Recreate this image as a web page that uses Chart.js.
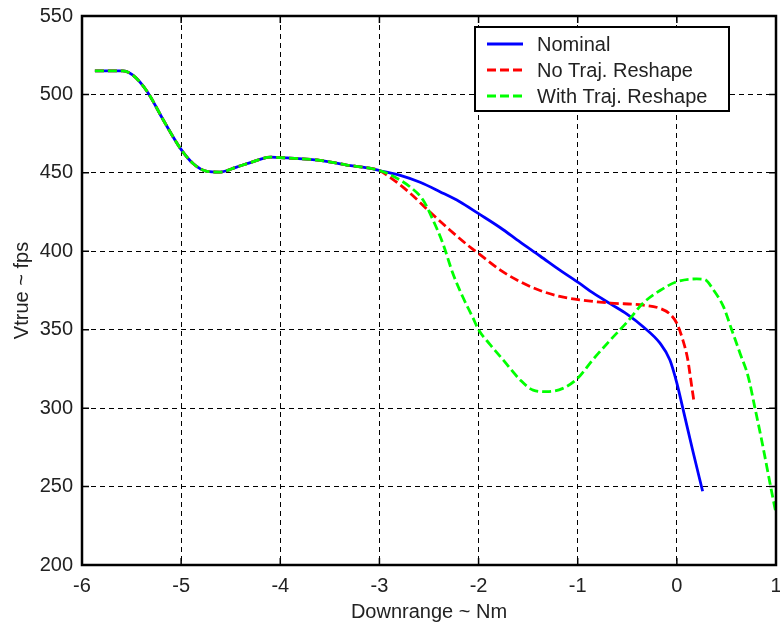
<!DOCTYPE html>
<html><head><meta charset="utf-8">
<script src="https://cdn.jsdelivr.net/npm/chart.js@4"></script>
<style>html,body{margin:0;padding:0;background:#fff}canvas{display:block}</style>
</head><body>
<canvas id="c" width="780" height="626"></canvas>
<script>
const seriesNames = ['Nominal', 'No Traj. Reshape', 'With Traj. Reshape'];
const xTicks = [-6, -5, -4, -3, -2, -1, 0, 1];
const yTicks = [200, 250, 300, 350, 400, 450, 500, 550];
const xTitle = 'Downrange ~ Nm';
const yTitle = 'Vtrue ~ fps';

// shared part of all three trajectories
const commonX = [-5.87, -5.72, -5.59, -5.49, -5.34, -5.18, -5.01, -4.88, -4.74, -4.61, -4.44, -4.28, -4.10, -3.93, -3.60, -3.33, -3.10, -3.00];
const commonY = [515, 515, 515, 512.4, 501.6, 483.7, 465.8, 456, 451, 450.5, 453.7, 457, 460, 459.5, 458, 455, 453, 451.5];

const nominalX = [-2.79, -2.59, -2.39, -2.19, -2.0, -1.78, -1.58, -1.38, -1.18, -0.98, -0.85, -0.67, -0.5, -0.34, -0.17, -0.07, 0.0, 0.06, 0.16, 0.26];
const nominalY = [448.4, 444, 438, 431.6, 424, 415, 405.8, 397, 388, 379.5, 373.6, 366.5, 359.8, 351.9, 341.4, 330.7, 316, 300, 273, 247];

const noReshapeX = [-2.9, -2.69, -2.49, -2.29, -2.09, -2.0, -1.78, -1.58, -1.38, -1.18, -0.98, -0.67, -0.34, -0.17, -0.07, 0.0, 0.06, 0.11, 0.145, 0.173];
const noReshapeY = [447.5, 437, 425, 413.6, 402.9, 398.6, 388, 380.6, 375, 371.2, 369, 367, 365.7, 363.6, 360, 354, 343.5, 331, 316, 304];

const withReshapeX = [-2.9, -2.69, -2.56, -2.46, -2.36, -2.26, -2.16, -2.06, -2.0, -1.89, -1.75, -1.58, -1.45, -1.31, -1.15, -1.0, -0.85, -0.67, -0.5, -0.34, -0.17, 0.0, 0.2, 0.28, 0.37, 0.47, 0.553, 0.637, 0.72, 0.788, 0.855, 0.94, 0.973, 1.0];
const withReshapeY = [449, 441, 432.7, 420, 405, 386, 371, 358, 350, 341, 330.6, 318, 311.5, 310.5, 312.6, 319, 330.7, 343.5, 355, 367, 375, 380.6, 382.4, 382, 375.3, 364.7, 350, 335, 320, 300, 279.7, 252, 241.4, 233];

function pts(xs, ys) {
  const a = commonX.concat(xs), b = commonY.concat(ys);
  return a.map((v, i) => ({x: v, y: b[i]}));
}

const FONT = 'Liberation Sans, Arial, Helvetica, sans-serif';
Chart.defaults.font.family = FONT;
Chart.defaults.font.size = 20;
Chart.defaults.color = '#222';

const framePlugin = {
  id: 'frame',
  afterDatasetsDraw(chart) {
    const {ctx, chartArea: {left, right, top, bottom}, scales: {x, y}} = chart;
    ctx.save();
    ctx.strokeStyle = '#000';
    ctx.lineWidth = 1.5;
    ctx.beginPath();
    xTicks.forEach(v => {
      const px = x.getPixelForValue(v);
      ctx.moveTo(px, bottom); ctx.lineTo(px, bottom - 7);
      ctx.moveTo(px, top); ctx.lineTo(px, top + 7);
    });
    yTicks.forEach(v => {
      const py = y.getPixelForValue(v);
      ctx.moveTo(left, py); ctx.lineTo(left + 7, py);
      ctx.moveTo(right, py); ctx.lineTo(right - 7, py);
    });
    ctx.stroke();
    ctx.lineWidth = 2.5;
    ctx.strokeRect(left, top, right - left, bottom - top);

    // legend box
    const bw = 254, bh = 84;
    const bx = right - 47 - bw, by = top + 11;
    ctx.fillStyle = '#fff';
    ctx.fillRect(bx, by, bw, bh);
    ctx.lineWidth = 2;
    ctx.strokeRect(bx, by, bw, bh);
    ctx.font = '20px ' + FONT;
    ctx.textBaseline = 'middle';
    ctx.textAlign = 'left';
    chart.data.datasets.forEach((ds, i) => {
      const ry = by + 17 + i * 26;
      ctx.beginPath();
      ctx.strokeStyle = ds.borderColor;
      ctx.lineWidth = ds.borderWidth;
      ctx.setLineDash(ds.borderDash || []);
      ctx.moveTo(bx + 12, ry);
      ctx.lineTo(bx + 48, ry);
      ctx.stroke();
      ctx.setLineDash([]);
      ctx.fillStyle = '#222';
      ctx.fillText(ds.label, bx + 62, ry + 1);
    });
    ctx.restore();
  }
};

new Chart(document.getElementById('c'), {
  type: 'line',
  data: {
    datasets: [
      {label: seriesNames[0], data: pts(nominalX, nominalY), borderColor: '#0000ff', borderWidth: 2.8, order: 2},
      {label: seriesNames[1], data: pts(noReshapeX, noReshapeY), borderColor: '#ff0000', borderWidth: 2.8, borderDash: [9, 4], order: 1},
      {label: seriesNames[2], data: pts(withReshapeX, withReshapeY), borderColor: '#00ff00', borderWidth: 2.8, borderDash: [9, 4], order: 0}
    ]
  },
  options: {
    responsive: false,
    animation: false,
    elements: {point: {radius: 0}, line: {cubicInterpolationMode: 'monotone', fill: false}},
    layout: {padding: {top: 16, right: 4, left: 0, bottom: 0}},
    plugins: {legend: {display: false}, tooltip: {enabled: false}},
    scales: {
      x: {
        type: 'linear', min: -6, max: 1,
        afterBuildTicks(s) { s.ticks = xTicks.map(v => ({value: v})); },
        afterFit(s) { s.height = 61; s.paddingLeft = 0; s.paddingRight = 0; },
        ticks: {padding: 9, autoSkip: false, maxRotation: 0},
        grid: {color: '#000', lineWidth: 1, drawTicks: false},
        border: {display: false, dash: [5, 4]},
        title: {display: true, text: xTitle, padding: {top: 0, bottom: 2}}
      },
      y: {
        type: 'linear', min: 200, max: 550,
        afterBuildTicks(s) { s.ticks = yTicks.map(v => ({value: v})); },
        afterFit(s) { s.width = 82; s.paddingTop = 0; s.paddingBottom = 0; },
        ticks: {padding: 9, autoSkip: false},
        grid: {color: '#000', lineWidth: 1, drawTicks: false},
        border: {display: false, dash: [5, 4]},
        title: {display: true, text: yTitle, padding: {top: 10, bottom: 0}}
      }
    }
  },
  plugins: [framePlugin]
});
</script>
</body></html>
